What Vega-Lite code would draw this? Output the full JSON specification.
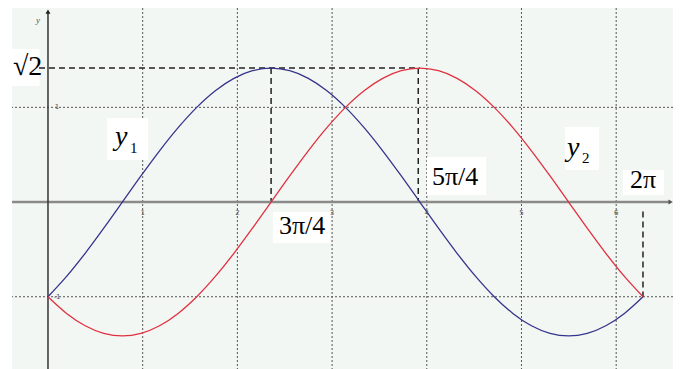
{
  "$schema": "https://vega.github.io/schema/vega-lite/v6.json",
  "width": 661,
  "height": 361,
  "padding": {"left": 12, "top": 8, "right": 9, "bottom": 0},
  "autosize": {"type": "none"},
  "background": "white",
  "config": {"view": {"fill": "#f3f7f3", "stroke": null}},
  "datasets": {
    "curves": [
      {"x": 0, "y": -1.0, "s": "y1"}, {"x": 0.1963, "y": -0.7857, "s": "y1"}, {"x": 0.3927, "y": -0.5412, "s": "y1"}, {"x": 0.589, "y": -0.2759, "s": "y1"}, {"x": 0.7854, "y": 0, "s": "y1"}, {"x": 0.9817, "y": 0.2759, "s": "y1"}, {"x": 1.1781, "y": 0.5412, "s": "y1"}, {"x": 1.3744, "y": 0.7857, "s": "y1"}, {"x": 1.5708, "y": 1.0, "s": "y1"}, {"x": 1.7671, "y": 1.1759, "s": "y1"}, {"x": 1.9635, "y": 1.3066, "s": "y1"}, {"x": 2.1598, "y": 1.387, "s": "y1"}, {"x": 2.3562, "y": 1.4142, "s": "y1"}, {"x": 2.5525, "y": 1.387, "s": "y1"}, {"x": 2.7489, "y": 1.3066, "s": "y1"}, {"x": 2.9452, "y": 1.1759, "s": "y1"}, {"x": 3.1416, "y": 1.0, "s": "y1"}, {"x": 3.3379, "y": 0.7857, "s": "y1"}, {"x": 3.5343, "y": 0.5412, "s": "y1"}, {"x": 3.7306, "y": 0.2759, "s": "y1"}, {"x": 3.927, "y": 0, "s": "y1"}, {"x": 4.1233, "y": -0.2759, "s": "y1"}, {"x": 4.3197, "y": -0.5412, "s": "y1"}, {"x": 4.516, "y": -0.7857, "s": "y1"}, {"x": 4.7124, "y": -1.0, "s": "y1"}, {"x": 4.9087, "y": -1.1759, "s": "y1"}, {"x": 5.1051, "y": -1.3066, "s": "y1"}, {"x": 5.3014, "y": -1.387, "s": "y1"}, {"x": 5.4978, "y": -1.4142, "s": "y1"}, {"x": 5.6941, "y": -1.387, "s": "y1"}, {"x": 5.8905, "y": -1.3066, "s": "y1"}, {"x": 6.0868, "y": -1.1759, "s": "y1"}, {"x": 6.2832, "y": -1.0, "s": "y1"},
      {"x": 0, "y": -1.0, "s": "y2"}, {"x": 0.1963, "y": -1.1759, "s": "y2"}, {"x": 0.3927, "y": -1.3066, "s": "y2"}, {"x": 0.589, "y": -1.387, "s": "y2"}, {"x": 0.7854, "y": -1.4142, "s": "y2"}, {"x": 0.9817, "y": -1.387, "s": "y2"}, {"x": 1.1781, "y": -1.3066, "s": "y2"}, {"x": 1.3744, "y": -1.1759, "s": "y2"}, {"x": 1.5708, "y": -1.0, "s": "y2"}, {"x": 1.7671, "y": -0.7857, "s": "y2"}, {"x": 1.9635, "y": -0.5412, "s": "y2"}, {"x": 2.1598, "y": -0.2759, "s": "y2"}, {"x": 2.3562, "y": 0, "s": "y2"}, {"x": 2.5525, "y": 0.2759, "s": "y2"}, {"x": 2.7489, "y": 0.5412, "s": "y2"}, {"x": 2.9452, "y": 0.7857, "s": "y2"}, {"x": 3.1416, "y": 1.0, "s": "y2"}, {"x": 3.3379, "y": 1.1759, "s": "y2"}, {"x": 3.5343, "y": 1.3066, "s": "y2"}, {"x": 3.7306, "y": 1.387, "s": "y2"}, {"x": 3.927, "y": 1.4142, "s": "y2"}, {"x": 4.1233, "y": 1.387, "s": "y2"}, {"x": 4.3197, "y": 1.3066, "s": "y2"}, {"x": 4.516, "y": 1.1759, "s": "y2"}, {"x": 4.7124, "y": 1.0, "s": "y2"}, {"x": 4.9087, "y": 0.7857, "s": "y2"}, {"x": 5.1051, "y": 0.5412, "s": "y2"}, {"x": 5.3014, "y": 0.2759, "s": "y2"}, {"x": 5.4978, "y": 0, "s": "y2"}, {"x": 5.6941, "y": -0.2759, "s": "y2"}, {"x": 5.8905, "y": -0.5412, "s": "y2"}, {"x": 6.0868, "y": -0.7857, "s": "y2"}, {"x": 6.2832, "y": -1.0, "s": "y2"}
    ],
    "vgrid": [{"x": 1}, {"x": 2}, {"x": 3}, {"x": 4}, {"x": 5}, {"x": 6}],
    "hgrid": [{"y": 1}, {"y": -1}],
    "guides": [
      {"x": -0.095, "x2": 3.927, "y": 1.4142, "y2": 1.4142},
      {"x": 2.356, "x2": 2.356, "y": 1.4142, "y2": 0},
      {"x": 3.91, "x2": 3.91, "y": 1.4142, "y2": 0},
      {"x": 6.283, "x2": 6.283, "y": -0.1, "y2": -1}
    ],
    "boxes": [
      {"x": -0.38, "x2": -0.09, "y": 1.616, "y2": 1.225},
      {"x": 0.623, "x2": 1.056, "y": 0.887, "y2": 0.444},
      {"x": 2.376, "x2": 2.98, "y": -0.106, "y2": -0.433},
      {"x": 4.002, "x2": 4.625, "y": 0.475, "y2": 0.074},
      {"x": 5.459, "x2": 5.818, "y": 0.792, "y2": 0.338},
      {"x": 6.072, "x2": 6.505, "y": 0.338, "y2": 0.074}
    ],
    "bigLabels": [
      {"t": "3π/4", "x": 2.439, "y": -0.338},
      {"t": "5π/4", "x": 4.055, "y": 0.18},
      {"t": "2π", "x": 6.146, "y": 0.148}
    ],
    "rootLabel": [{"t": "√2", "x": -0.37, "y": 1.341}],
    "yNames": [
      {"t": "y", "x": 0.707, "y": 0.602},
      {"t": "y", "x": 5.48, "y": 0.486}
    ],
    "subs": [
      {"t": "1", "x": 0.866, "y": 0.517},
      {"t": "2", "x": 5.639, "y": 0.412}
    ],
    "ticks": [
      {"t": "1", "x": 1.0, "y": -0.116},
      {"t": "2", "x": 2.0, "y": -0.116},
      {"t": "3", "x": 3.0, "y": -0.116},
      {"t": "4", "x": 4.0, "y": -0.116},
      {"t": "5", "x": 5.0, "y": -0.116},
      {"t": "6", "x": 6.0, "y": -0.116},
      {"t": "1", "x": 0.095, "y": 1.0},
      {"t": "-1", "x": 0.095, "y": -1.0}
    ],
    "axisNames": [{"t": "y", "x": -0.106, "y": 1.922}],
    "xaxis": [{"x": -0.38, "x2": 6.57, "y": 0, "y2": 0}],
    "yaxis": [{"x": 0, "x2": 0, "y": -1.763, "y2": 2.0}],
    "xarrow": [{"x": 6.575, "y": 0}],
    "yarrow": [{"x": 0, "y": 2.01}]
  },
  "layer": [
    {
      "data": {"name": "vgrid"},
      "mark": {"type": "rule", "color": "#555555", "strokeDash": [2, 2], "strokeWidth": 1},
      "encoding": {"x": {"field": "x", "type": "quantitative", "scale": {"domain": [-0.38, 6.6], "nice": false, "zero": false}, "axis": null}}
    },
    {
      "data": {"name": "hgrid"},
      "mark": {"type": "rule", "color": "#555555", "strokeDash": [2, 2], "strokeWidth": 1},
      "encoding": {"y": {"field": "y", "type": "quantitative", "scale": {"domain": [-1.763, 2.049], "nice": false, "zero": false}, "axis": null}}
    },
    {
      "data": {"name": "boxes"},
      "mark": {"type": "rect", "color": "white"},
      "encoding": {
        "x": {"field": "x", "type": "quantitative"},
        "x2": {"field": "x2"},
        "y": {"field": "y", "type": "quantitative"},
        "y2": {"field": "y2"}
      }
    },
    {
      "data": {"name": "guides"},
      "mark": {"type": "rule", "color": "#222222", "strokeDash": [6, 4], "strokeWidth": 1.5},
      "encoding": {
        "x": {"field": "x", "type": "quantitative"},
        "x2": {"field": "x2"},
        "y": {"field": "y", "type": "quantitative"},
        "y2": {"field": "y2"}
      }
    },
    {
      "data": {"name": "xaxis"},
      "mark": {"type": "rule", "color": "#8a8a8a", "strokeWidth": 2.5},
      "encoding": {
        "x": {"field": "x", "type": "quantitative"},
        "x2": {"field": "x2"},
        "y": {"field": "y", "type": "quantitative"},
        "y2": {"field": "y2"}
      }
    },
    {
      "data": {"name": "yaxis"},
      "mark": {"type": "rule", "color": "#333333", "strokeWidth": 1.5},
      "encoding": {
        "x": {"field": "x", "type": "quantitative"},
        "x2": {"field": "x2"},
        "y": {"field": "y", "type": "quantitative"},
        "y2": {"field": "y2"}
      }
    },
    {
      "data": {"name": "xarrow"},
      "mark": {"type": "point", "shape": "triangle-right", "filled": true, "color": "#555555", "size": 25, "opacity": 1},
      "encoding": {"x": {"field": "x", "type": "quantitative"}, "y": {"field": "y", "type": "quantitative"}}
    },
    {
      "data": {"name": "yarrow"},
      "mark": {"type": "point", "shape": "triangle-up", "filled": true, "color": "#222222", "size": 25, "opacity": 1},
      "encoding": {"x": {"field": "x", "type": "quantitative"}, "y": {"field": "y", "type": "quantitative"}}
    },
    {
      "data": {"name": "curves"},
      "mark": {"type": "line", "strokeWidth": 1.3, "interpolate": "monotone"},
      "encoding": {
        "x": {"field": "x", "type": "quantitative"},
        "y": {"field": "y", "type": "quantitative"},
        "color": {"field": "s", "type": "nominal", "scale": {"domain": ["y1", "y2"], "range": ["#34348c", "#e03040"]}, "legend": null},
        "detail": {"field": "s"}
      }
    },
    {
      "data": {"name": "bigLabels"},
      "mark": {"type": "text", "font": "'Liberation Serif', serif", "fontSize": 26, "align": "left", "baseline": "alphabetic", "color": "black"},
      "encoding": {"x": {"field": "x", "type": "quantitative"}, "y": {"field": "y", "type": "quantitative"}, "text": {"field": "t"}}
    },
    {
      "data": {"name": "rootLabel"},
      "mark": {"type": "text", "font": "'Liberation Serif', serif", "fontSize": 28, "align": "left", "baseline": "alphabetic", "color": "black"},
      "encoding": {"x": {"field": "x", "type": "quantitative"}, "y": {"field": "y", "type": "quantitative"}, "text": {"field": "t"}}
    },
    {
      "data": {"name": "yNames"},
      "mark": {"type": "text", "font": "'Liberation Serif', serif", "fontStyle": "italic", "fontSize": 28, "align": "left", "baseline": "alphabetic", "color": "black"},
      "encoding": {"x": {"field": "x", "type": "quantitative"}, "y": {"field": "y", "type": "quantitative"}, "text": {"field": "t"}}
    },
    {
      "data": {"name": "subs"},
      "mark": {"type": "text", "font": "'Liberation Serif', serif", "fontSize": 15, "align": "left", "baseline": "alphabetic", "color": "black"},
      "encoding": {"x": {"field": "x", "type": "quantitative"}, "y": {"field": "y", "type": "quantitative"}, "text": {"field": "t"}}
    },
    {
      "data": {"name": "ticks"},
      "mark": {"type": "text", "font": "DejaVu Sans", "fontSize": 7, "align": "center", "baseline": "middle", "color": "#555555"},
      "encoding": {"x": {"field": "x", "type": "quantitative"}, "y": {"field": "y", "type": "quantitative"}, "text": {"field": "t"}}
    },
    {
      "data": {"name": "axisNames"},
      "mark": {"type": "text", "font": "'Liberation Serif', serif", "fontStyle": "italic", "fontSize": 9, "align": "center", "baseline": "middle", "color": "#555555"},
      "encoding": {"x": {"field": "x", "type": "quantitative"}, "y": {"field": "y", "type": "quantitative"}, "text": {"field": "t"}}
    }
  ]
}
